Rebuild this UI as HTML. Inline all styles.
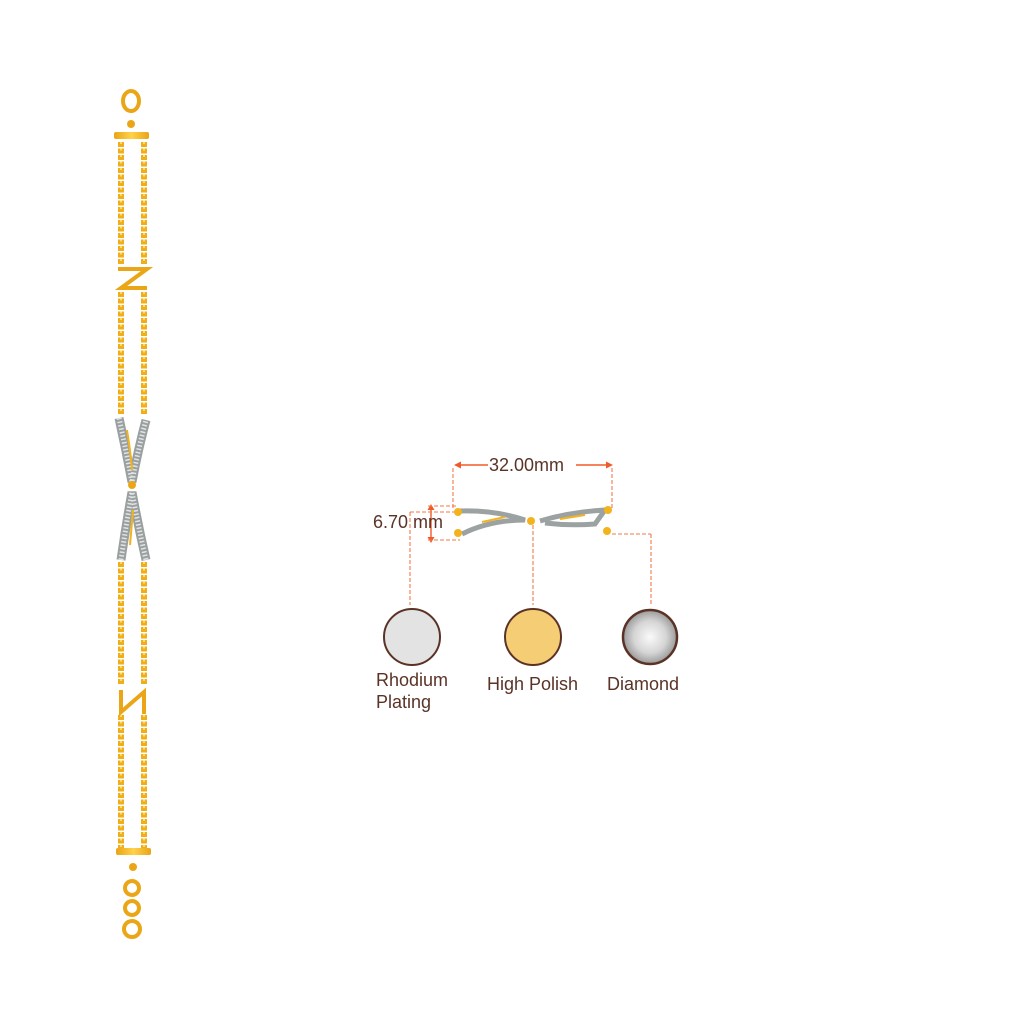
<!DOCTYPE html>
<html><head><meta charset="utf-8"><style>
html,body{margin:0;padding:0;background:#fff;width:1024px;height:1024px;overflow:hidden}
svg{display:block}
text{font-family:"Liberation Sans",sans-serif;fill:#5b3326}
</style></head><body>
<svg width="1024" height="1024" viewBox="0 0 1024 1024" xmlns="http://www.w3.org/2000/svg">
<defs>
<linearGradient id="g" x1="0" x2="1"><stop offset="0" stop-color="#e9a416"/><stop offset=".5" stop-color="#ffd24a"/><stop offset="1" stop-color="#e9a416"/></linearGradient>
<radialGradient id="dm" cx=".5" cy=".5" r=".5"><stop offset="0" stop-color="#fafafa"/><stop offset=".6" stop-color="#d5d5d5"/><stop offset="1" stop-color="#9a9a9a"/></radialGradient>
</defs>
<!-- bracelet chains -->
<g fill="none" stroke="#efae1a" stroke-width="6" stroke-dasharray="5 1.5">
<line x1="121" y1="142" x2="121" y2="265"/><line x1="144" y1="142" x2="144" y2="265"/>
<line x1="121" y1="292" x2="121" y2="415"/><line x1="144" y1="292" x2="144" y2="415"/>
<line x1="121" y1="562" x2="121" y2="685"/><line x1="144" y1="562" x2="144" y2="685"/>
<line x1="121" y1="715" x2="121" y2="848"/><line x1="144" y1="715" x2="144" y2="848"/>
</g>
<g fill="none" stroke="#fdd86a" stroke-width="2" stroke-dasharray="2 4.5">
<line x1="121" y1="142" x2="121" y2="265"/><line x1="144" y1="142" x2="144" y2="265"/>
<line x1="121" y1="292" x2="121" y2="415"/><line x1="144" y1="292" x2="144" y2="415"/>
<line x1="121" y1="562" x2="121" y2="685"/><line x1="144" y1="562" x2="144" y2="685"/>
<line x1="121" y1="715" x2="121" y2="848"/><line x1="144" y1="715" x2="144" y2="848"/>
</g>
<!-- clasp -->
<ellipse cx="131" cy="101" rx="8" ry="10" fill="none" stroke="#eaa617" stroke-width="4"/>
<circle cx="131" cy="124" r="4" fill="#eaa617"/>
<rect x="114" y="132" width="35" height="7" rx="2" fill="url(#g)"/>
<!-- Z -->
<path d="M118 269 L147 269 L121 288 L147 288" fill="none" stroke="#eaa617" stroke-width="4"/>
<!-- diamond pieces -->
<path d="M119 418 Q126 450 132 482 Q138 450 146 420" fill="none" stroke="#9aa0a0" stroke-width="9"/>
<path d="M119 418 Q126 450 132 482 Q138 450 146 420" fill="none" stroke="#e2e4e4" stroke-width="5" stroke-dasharray="1.5 2"/>
<path d="M127 430 Q131 455 132 470" fill="none" stroke="#f2b31c" stroke-width="2"/>
<circle cx="132" cy="485" r="4" fill="#eaa617"/>
<path d="M121 560 Q126 525 132 492 Q138 525 146 560" fill="none" stroke="#9aa0a0" stroke-width="9"/>
<path d="M121 560 Q126 525 132 492 Q138 525 146 560" fill="none" stroke="#e2e4e4" stroke-width="5" stroke-dasharray="1.5 2"/>
<path d="M130 545 L133 510" fill="none" stroke="#f2b31c" stroke-width="2"/>
<!-- N-ish -->
<path d="M121 690 L121 712 L144 692 L144 714" fill="none" stroke="#eaa617" stroke-width="4"/>
<!-- end bar and rings -->
<rect x="116" y="848" width="35" height="7" rx="2" fill="url(#g)"/>
<circle cx="133" cy="867" r="4" fill="#eaa617"/>
<circle cx="132" cy="888" r="7" fill="none" stroke="#eaa617" stroke-width="4"/>
<circle cx="132" cy="908" r="7" fill="none" stroke="#eaa617" stroke-width="4"/>
<circle cx="132" cy="929" r="8" fill="none" stroke="#eaa617" stroke-width="4"/>

<!-- dimension lines -->
<g stroke="#f05a28" stroke-width="1.4" fill="none">
<line x1="456" y1="465" x2="488" y2="465"/><line x1="576" y1="465" x2="610" y2="465"/>
<line x1="431" y1="508" x2="431" y2="540"/>
</g>
<path d="M454 465 l7 -3.5 v7z M613 465 l-7 -3.5 v7z M431 504 l-3.5 6 h7z M431 543 l-3.5 -6 h7z" fill="#f05a28"/>
<g stroke="#f2794a" stroke-width="1.1" fill="none" stroke-dasharray="4 2">
<line x1="453" y1="468" x2="453" y2="510"/><line x1="612" y1="468" x2="612" y2="510"/>
<line x1="428" y1="506" x2="458" y2="506"/><line x1="428" y1="540" x2="460" y2="540"/>
<line x1="410" y1="512" x2="458" y2="512"/>
<line x1="410" y1="512" x2="410" y2="605"/>
<line x1="533" y1="525" x2="533" y2="605"/>
<line x1="612" y1="534" x2="651" y2="534"/><line x1="651" y1="534" x2="651" y2="605"/>
</g>
<text x="489" y="471" font-size="18">32.00mm</text>
<text x="373" y="528" font-size="18">6.70 mm</text>
<!-- mini piece -->
<path d="M460 511 Q495 510 525 520 Q490 520 462 534" fill="none" stroke="#9ca2a2" stroke-width="5"/>
<path d="M540 521 Q570 512 605 510 L595 524 Q570 526 545 523" fill="none" stroke="#9ca2a2" stroke-width="5"/>
<path d="M482 522 L505 517 M560 519 L585 515" stroke="#f2b31c" stroke-width="2"/>
<circle cx="458" cy="512" r="4" fill="#f2b31c"/><circle cx="458" cy="533" r="4" fill="#f2b31c"/>
<circle cx="531" cy="521" r="4" fill="#f2b31c"/>
<circle cx="608" cy="510" r="4" fill="#f2b31c"/><circle cx="607" cy="531" r="4" fill="#f2b31c"/>
<!-- swatches -->
<circle cx="412" cy="637" r="28" fill="#e3e3e3" stroke="#5b3326" stroke-width="2"/>
<circle cx="533" cy="637" r="28" fill="#f5cd75" stroke="#5b3326" stroke-width="2"/>
<circle cx="650" cy="637" r="27" fill="url(#dm)" stroke="#5b3326" stroke-width="2.5"/>
<text x="376" y="686" font-size="18">Rhodium</text>
<text x="376" y="708" font-size="18">Plating</text>
<text x="487" y="690" font-size="18">High Polish</text>
<text x="607" y="690" font-size="18">Diamond</text>
</svg>
</body></html>
